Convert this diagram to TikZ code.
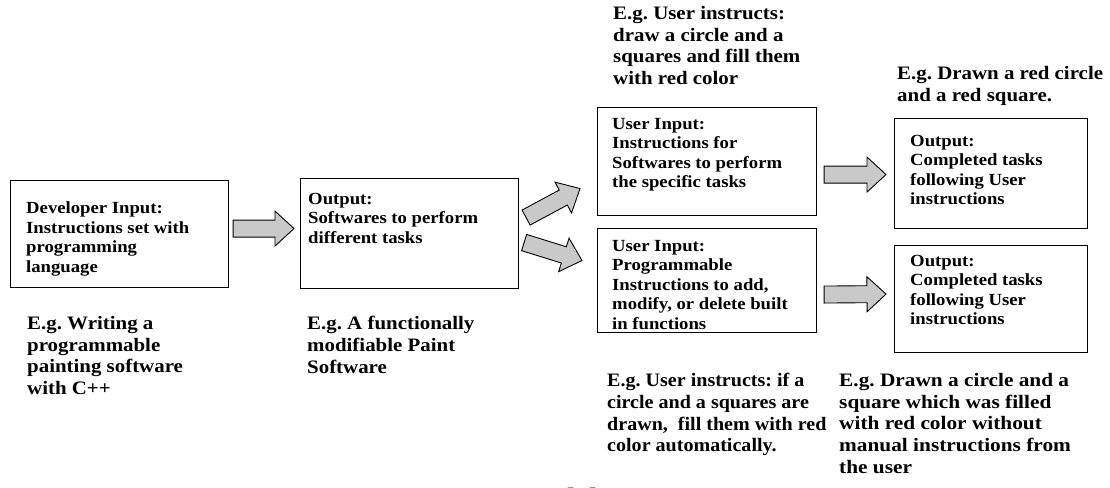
\documentclass[tikz,border=0pt]{standalone}
\usepackage{fontspec}
\setmainfont{Liberation Serif}[FakeStretch=1.1]
\usetikzlibrary{calc}
\frenchspacing

% block arrow from tail coordinate #1 to tip coordinate #2
\newcommand\blockarrow[2]{%
  \coordinate (hs) at ($(#2)!19pt!(#1)$);
  \draw[barrow]
    ($(#1)!8.5pt!90:(#2)$) -- ($(hs)!8.5pt!90:(#2)$) -- ($(hs)!17.5pt!90:(#2)$) --
    (#2) --
    ($(hs)!17.5pt!-90:(#2)$) -- ($(hs)!8.5pt!-90:(#2)$) -- ($(#1)!8.5pt!-90:(#2)$) -- cycle;
}

\tikzset{
  box/.style={draw, line width=1.1pt, anchor=north west, inner sep=0pt},
  boxtext/.style={anchor=north west, inner sep=0pt, align=left,
    font=\fontsize{17}{19.5}\selectfont\bfseries},
  note/.style={anchor=north west, inner sep=0pt, align=left,
    font=\fontsize{19}{21.8}\selectfont\bfseries},
  barrow/.style={draw, line width=0.9pt, fill=black!21, line join=miter}
}

\begin{document}
\begin{tikzpicture}[x=1pt, y=-1pt]
\useasboundingbox (0,0) rectangle (1110,487);
\fill[white] (0,0) rectangle (1110,487);

% boxes
\node[box, minimum width=218pt, minimum height=107pt] (b1) at (10,180) {};
\node[box, minimum width=218pt, minimum height=110pt] (b2) at (300,178) {};
\node[box, minimum width=219pt, minimum height=108pt] (b3) at (597,107) {};
\node[box, minimum width=219pt, minimum height=104pt] (b4) at (597,228) {};
\node[box, minimum width=193pt, minimum height=110pt] (b5) at (894,118) {};
\node[box, minimum width=193pt, minimum height=107pt] (b6) at (894,245) {};

% box contents
\node[boxtext] (t1) at (26,202) {Developer Input:\\Instructions set with\\programming\\language};
\node[boxtext] (t2) at (308,193) {Output:\\Softwares to perform\\different tasks};
\node[boxtext] (t3) at (612,118) {User Input:\\Instructions for\\Softwares to perform\\the specific tasks};
\node[boxtext] (t4) at (612,240) {User Input:\\Programmable\\Instructions to add,\\modify, or delete built\\in functions};
\node[boxtext] (t5) at (910,135) {Output:\\Completed tasks\\following User\\instructions};
\node[boxtext] (t6) at (910,255) {Output:\\Completed tasks\\following User\\instructions};

% examples
\node[note] (n1) at (27,316) {E.g. Writing a\\programmable\\painting software\\with C++};
\node[note] (n2) at (307,316) {E.g. A functionally\\modifiable Paint\\Software};
\node[note] (n3) at (613,6) {E.g. User instructs:\\draw a circle and a\\squares and fill them\\with red color};
\node[note] (n4) at (897,66) {E.g. Drawn a red circle\\and a red square.};
\node[note, xscale=0.96] (n5) at (607,373) {E.g. User instructs: if a\\circle and a squares are\\drawn,~ fill them with red\\color automatically.};
\node[note, xscale=1.02] (n6) at (839,373) {E.g. Drawn a circle and a\\square which was filled\\with red color without\\manual instructions from\\the user};

% caption, running off the lower edge
\node[anchor=north west, inner sep=0pt, font=\fontsize{28}{30}\selectfont\bfseries] (cap) at (412,487.5) {System Model};

% connectors
\coordinate (a1s) at ($(b1.east)+(4,-5.5)$);
\coordinate (a1e) at ($(b2.west)+(-6,-5)$);
\coordinate (a2s) at ($(b2.east)+(7,-16)$);
\coordinate (a2e) at ($(b3.west)+(-17,27)$);
\coordinate (a3s) at ($(b2.east)+(5,9)$);
\coordinate (a3e) at ($(b4.west)+(-15,-20)$);
\coordinate (a4s) at ($(b3.east)+(7,13)$);
\coordinate (a4e) at ($(b5.west)+(-8,1)$);
\coordinate (a5s) at ($(b4.east)+(7,14)$);
\coordinate (a5e) at ($(b6.west)+(-8,-5)$);
\blockarrow{a1s}{a1e}
\blockarrow{a2s}{a2e}
\blockarrow{a3s}{a3e}
\blockarrow{a4s}{a4e}
\blockarrow{a5s}{a5e}
\end{tikzpicture}
\end{document}
